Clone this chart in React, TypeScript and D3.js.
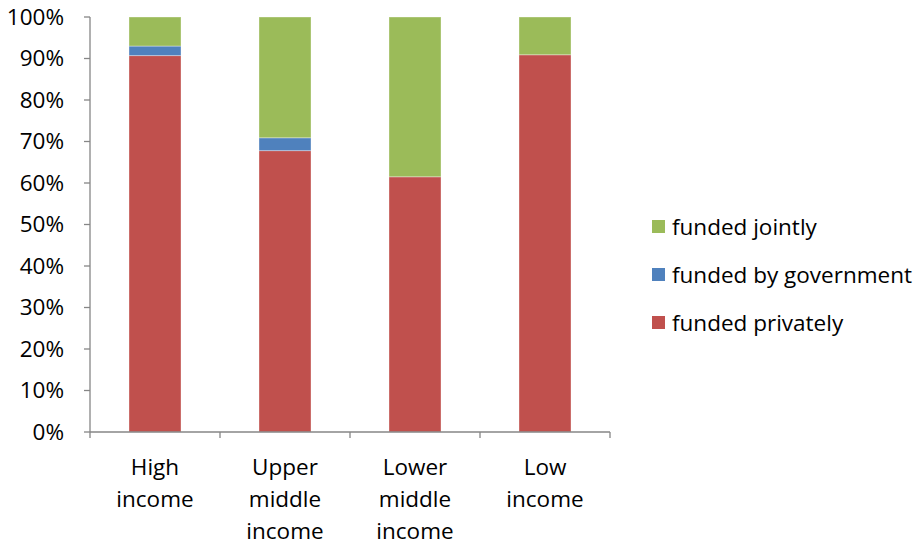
import React from 'react';
import * as d3 from 'd3';

// chart data (share of each income group, in %)
const categories = ['High income', 'Upper middle income', 'Lower middle income', 'Low income'];
const categoryLines = [['High', 'income'], ['Upper', 'middle', 'income'], ['Lower', 'middle', 'income'], ['Low', 'income']];
const fundedPrivately = [90.7, 67.8, 61.5, 90.9];
const fundedByGovernment = [2.3, 3.1, 0, 0];
const fundedJointly = [7.0, 29.1, 38.5, 9.1];
const yTicks = [0, 10, 20, 30, 40, 50, 60, 70, 80, 90, 100];

const seriesKeys = ['privately', 'government', 'jointly'];
const seriesLabels: Record<string, string> = {
    privately: 'funded privately',
    government: 'funded by government',
    jointly: 'funded jointly',
};
const colors: Record<string, string> = {
    privately: '#C0504D',
    government: '#4F81BD',
    jointly: '#9BBB59',
};

const WIDTH = 922;
const HEIGHT = 548;
const FONT = '"Open Sans", "Noto Sans", sans-serif';
const FONT_SIZE = 22.5;

export default function App() {
    const margin = { top: 17, left: 90, right: 312, bottom: 116 };
    const plotW = WIDTH - margin.left - margin.right;
    const plotH = HEIGHT - margin.top - margin.bottom;

    const rows = categories.map((c, i) => ({
        category: c,
        privately: fundedPrivately[i],
        government: fundedByGovernment[i],
        jointly: fundedJointly[i],
    }));

    const stacked = d3.stack<any>().keys(seriesKeys)(rows);

    const x = d3.scaleBand<string>()
        .domain(categories)
        .range([0, plotW])
        .paddingInner(0.6)
        .paddingOuter(0.3);
    const band = d3.scaleBand<string>().domain(categories).range([0, plotW]);
    const y = d3.scaleLinear().domain([0, 100]).range([plotH, 0]);

    const axisColor = '#868686';
    const legendOrder = ['jointly', 'government', 'privately'];

    return (
        <svg width={WIDTH} height={HEIGHT} style={{ position: 'absolute', left: 0, top: 0, background: '#fff' }}
            fontFamily={FONT}>
            <g transform={`translate(${margin.left},${margin.top})`}>
                {stacked.map(s => (
                    <g key={s.key} fill={colors[s.key]}>
                        {s.map((d, i) => (d[1] - d[0] > 0 ?
                            <rect key={i}
                                x={x(categories[i])}
                                y={y(d[1])}
                                width={x.bandwidth()}
                                height={y(d[0]) - y(d[1])}
                                stroke="#fff" strokeOpacity={0.35} strokeWidth={1} /> : null))}
                    </g>
                ))}

                {/* y axis */}
                <line x1={0} x2={0} y1={0} y2={plotH} stroke={axisColor} strokeWidth={1.3} />
                {yTicks.map(t => (
                    <g key={t} transform={`translate(0,${y(t)})`}>
                        <line x1={-6} x2={0} stroke={axisColor} strokeWidth={1.3} />
                        <text x={-26} dy="0.35em" textAnchor="end" fontSize={FONT_SIZE} fill="#000">{t}%</text>
                    </g>
                ))}

                {/* x axis */}
                <line x1={0} x2={plotW} y1={plotH} y2={plotH} stroke={axisColor} strokeWidth={1.3} />
                {[...categories.map(c => band(c) as number), plotW].map((bx, i) => (
                    <line key={i} x1={bx} x2={bx} y1={plotH} y2={plotH + 6} stroke={axisColor} strokeWidth={1.3} />
                ))}
                {categories.map((c, i) => (
                    <text key={c} x={(band(c) as number) + band.bandwidth() / 2} y={plotH + 43}
                        textAnchor="middle" fontSize={FONT_SIZE} fill="#000">
                        {categoryLines[i].map((ln, j) => (
                            <tspan key={j} x={(band(c) as number) + band.bandwidth() / 2} dy={j === 0 ? 0 : 32}>{ln}</tspan>
                        ))}
                    </text>
                ))}
            </g>

            {/* legend */}
            <g transform="translate(652,220)">
                {legendOrder.map((k, i) => (
                    <g key={k} transform={`translate(0,${i * 48})`}>
                        <rect width={13} height={13} fill={colors[k]} />
                        <text x={20} y={7} dy="0.35em" fontSize={FONT_SIZE} fill="#000">{seriesLabels[k]}</text>
                    </g>
                ))}
            </g>
        </svg>
    );
}
